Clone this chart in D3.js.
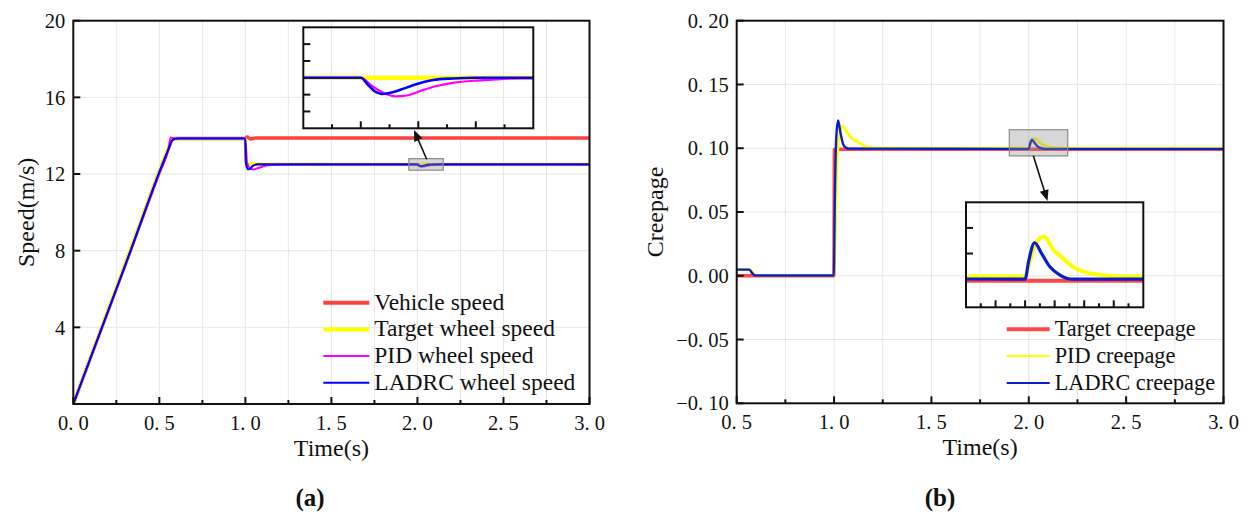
<!DOCTYPE html>
<html>
<head>
<meta charset="utf-8">
<script src="https://cdn.jsdelivr.net/npm/d3@7"></script>
<style>
  body { margin: 0; background: #fff; }
  svg { display: block; }
  text { font-family: "Liberation Serif", "DejaVu Serif", serif; fill: #111; }
</style>
</head>
<body>
<svg id="chart" width="1249" height="513" font-family="Liberation Serif"></svg>
<script>
// ---- panel (a): speed ----
const speedXTicks = [0, 0.5, 1.0, 1.5, 2.0, 2.5, 3.0];
const speedYTicks = [4, 8, 12, 16, 20];
const vehicleSpeed = [[0,0],[0.3,7.23],[0.555,13.37],[0.575,13.8],[0.6,13.85],[1.0,13.85],[1.01,13.93],[1.03,13.83],[1.06,13.88],[3.0,13.88]];
const targetWheelSpeed = [[0,0],[0.3,7.3],[0.55,13.32],[0.57,13.78],[0.59,13.84],[0.999,13.84],[1.004,12.52],[1.5,12.5],[3.0,12.5]];
const pidWheelSpeed = [[0,0],[0.3,7.2],[0.5,12.03],[0.553,13.31],[0.566,13.9],[0.58,13.87],[0.6,13.85],[0.999,13.85],[1.01,12.6],[1.03,12.28],[1.048,12.24],
  [1.08,12.33],[1.12,12.44],[1.18,12.49],[1.3,12.5],[2.0,12.5],[2.01,12.45],[2.02,12.41],[2.03,12.39],
  [2.04,12.395],[2.051,12.42],[2.065,12.45],[2.08,12.47],[2.104,12.485],[2.14,12.497],[3.0,12.5]];
const ladrcWheelSpeed = [[0,0],[0.3,7.2],[0.555,13.34],[0.575,13.76],[0.595,13.85],[0.62,13.86],[0.999,13.86],[1.003,12.6],[1.015,12.25],[1.025,12.26],[1.04,12.4],
  [1.066,12.5],[2.0,12.5],[2.006,12.46],[2.012,12.42],[2.018,12.404],[2.025,12.41],[2.035,12.43],
  [2.046,12.457],[2.063,12.487],[2.08,12.496],[2.1,12.5],[3.0,12.5]];

// ---- panel (b): creepage ----
const creepXTicks = [0.5, 1.0, 1.5, 2.0, 2.5, 3.0];
const creepYTicks = [-0.10, -0.05, 0.00, 0.05, 0.10, 0.15, 0.20];
const targetCreep = [[0.5,0],[0.999,0],[1.002,0.0992],[3.0,0.0992]];
const pidCreep = [[0.5,0.0048],[0.57,0.0048],[0.585,0.002],[0.6,0.0003],[0.999,0.0003],[1.006,0.03],
  [1.013,0.08],[1.025,0.108],[1.043,0.1175],[1.06,0.114],[1.09,0.108],[1.132,0.104],[1.16,0.1015],
  [1.2,0.1003],[2.0,0.1],[2.008,0.103],[2.018,0.1065],[2.032,0.1078],[2.048,0.1052],[2.065,0.1035],
  [2.081,0.1019],[2.1,0.1009],[2.13,0.1003],[2.17,0.1],[3.0,0.1]];
const ladrcCreep = [[0.5,0.0048],[0.565,0.0048],[0.58,0.002],[0.595,0.0002],[0.999,0.0002],[1.004,0.06],
  [1.012,0.11],[1.021,0.1217],[1.033,0.112],[1.047,0.103],[1.06,0.1005],[1.075,0.0997],[2.0,0.0995],
  [2.006,0.103],[2.016,0.1066],[2.028,0.1045],[2.042,0.1019],[2.059,0.1003],[2.08,0.0995],[3.0,0.0995]];

const svg = d3.select("#chart");
const gridColor = "#e6e6e6";

const fmtX = d => d.toFixed(1).replace(".", ". ");
const fmtCreep = d => (d < -1e-9 ? "\u2212" : "") + Math.abs(d).toFixed(2).replace(".", ". ");

function drawPanel(p) {
  const x = d3.scaleLinear().domain(p.xDomain).range([p.left, p.right]);
  const y = d3.scaleLinear().domain(p.yDomain).range([p.bottom, p.top]);
  const g = svg.append("g");

  // grid
  const minor = d3.range(p.xDomain[0], p.xDomain[1] + 1e-9, 0.25);
  g.append("g").selectAll("line").data(minor.slice(1, -1)).join("line")
    .attr("x1", d => x(d)).attr("x2", d => x(d)).attr("y1", p.top).attr("y2", p.bottom)
    .attr("stroke", gridColor).attr("stroke-width", 1);
  g.append("g").selectAll("line").data(p.gridY).join("line")
    .attr("x1", p.left).attr("x2", p.right).attr("y1", d => y(d)).attr("y2", d => y(d))
    .attr("stroke", gridColor).attr("stroke-width", 1);

  const clipId = "clip" + p.id;
  svg.append("clipPath").attr("id", clipId).append("rect")
    .attr("x", p.left).attr("y", p.top).attr("width", p.right - p.left).attr("height", p.bottom - p.top);

  const line = d3.line().x(d => x(d[0])).y(d => y(d[1])).curve(d3.curveMonotoneX);
  const lines = g.append("g").attr("clip-path", `url(#${clipId})`);
  p.series.forEach(s => {
    lines.append("path").attr("d", line(s.data)).attr("fill", "none")
      .attr("stroke", s.color).attr("stroke-width", s.width).attr("stroke-linejoin", "round");
  });

  // zoom rectangle
  const ins = p.inset;
  const rx0 = x(ins.xDomain[0]), rx1 = x(ins.xDomain[1]);
  const ry0 = y(ins.yDomain[1]), ry1 = y(ins.yDomain[0]);
  g.append("rect").attr("x", rx0).attr("y", ry0).attr("width", rx1 - rx0).attr("height", ry1 - ry0)
    .attr("fill", "rgba(140,140,140,0.35)").attr("stroke", "#8a8a8a").attr("stroke-width", 1.2);

  // ticks
  const axisG = g.append("g");
  minor.forEach(d => {
    const major = p.xTicks.some(t => Math.abs(t - d) < 1e-9);
    axisG.append("line").attr("x1", x(d)).attr("x2", x(d)).attr("y1", p.bottom).attr("y2", p.bottom - (major ? 7 : 4))
      .attr("stroke", "#111").attr("stroke-width", 2);
  });
  p.yTicks.forEach(d => {
    axisG.append("line").attr("x1", p.left).attr("x2", p.left + 7).attr("y1", y(d)).attr("y2", y(d))
      .attr("stroke", "#111").attr("stroke-width", 2);
  });
  axisG.append("rect").attr("x", p.left).attr("y", p.top).attr("width", p.right - p.left).attr("height", p.bottom - p.top)
    .attr("fill", "none").attr("stroke", "#111").attr("stroke-width", 2);

  axisG.selectAll("text.xt").data(p.xTicks).join("text").attr("class", "xt")
    .attr("x", d => x(d)).attr("y", p.bottom + 26).attr("text-anchor", "middle")
    .attr("font-size", 20.5).text(fmtX);
  axisG.selectAll("text.yt").data(p.yLabelTicks).join("text").attr("class", "yt")
    .attr("x", p.left - 8).attr("y", d => y(d)).attr("dy", "0.35em").attr("text-anchor", "end")
    .attr("font-size", 20.5).text(p.yFmt);

  g.append("text").attr("x", (p.left + p.right) / 2).attr("y", p.bottom + 52).attr("text-anchor", "middle")
    .attr("font-size", 24).text("Time(s)");
  g.append("text").attr("transform", `translate(${p.yLabelX},${(p.top + p.bottom) / 2}) rotate(-90)`)
    .attr("text-anchor", "middle").attr("dy", "0.35em").attr("font-size", 24).text(p.yLabel);
  g.append("text").attr("x", p.captionX).attr("y", 506).attr("text-anchor", "middle")
    .attr("font-size", 25).attr("font-weight", "bold").text(p.caption);

  // inset
  const ix = d3.scaleLinear().domain(ins.xDomain).range([ins.x, ins.x + ins.w]);
  const iy = d3.scaleLinear().domain(ins.yDomain).range([ins.y + ins.h, ins.y]);
  const iClip = "iclip" + p.id;
  svg.append("clipPath").attr("id", iClip).append("rect")
    .attr("x", ins.x).attr("y", ins.y).attr("width", ins.w).attr("height", ins.h);
  const iline = d3.line().x(d => ix(d[0])).y(d => iy(d[1])).curve(d3.curveMonotoneX);
  const ig = g.append("g");
  const il = ig.append("g").attr("clip-path", `url(#${iClip})`);
  p.series.forEach(s => {
    il.append("path").attr("d", iline(s.data)).attr("fill", "none")
      .attr("stroke", s.color).attr("stroke-width", s.insetWidth).attr("stroke-linejoin", "round");
  });
  ins.xTicks.forEach(d => {
    const long = Math.abs(Math.round(d / 0.05) * 0.05 - d) < 1e-9;
    ig.append("line").attr("x1", ix(d)).attr("x2", ix(d)).attr("y1", ins.y + ins.h).attr("y2", ins.y + ins.h - (long ? 7 : 4))
      .attr("stroke", "#111").attr("stroke-width", 2);
  });
  ins.yTicks.forEach(d => {
    ig.append("line").attr("x1", ins.x).attr("x2", ins.x + 7).attr("y1", iy(d)).attr("y2", iy(d))
      .attr("stroke", "#111").attr("stroke-width", 2);
  });
  ig.append("rect").attr("x", ins.x).attr("y", ins.y).attr("width", ins.w).attr("height", ins.h)
    .attr("fill", "none").attr("stroke", "#111").attr("stroke-width", 2);

  // arrow from zoom rect to inset
  const a = ins.arrow;
  const ang = Math.atan2(a[3] - a[1], a[2] - a[0]);
  const hl = 11, hw = 4.5;
  g.append("line").attr("x1", a[0]).attr("y1", a[1])
    .attr("x2", a[2] - Math.cos(ang) * hl * 0.8).attr("y2", a[3] - Math.sin(ang) * hl * 0.8)
    .attr("stroke", "#111").attr("stroke-width", 1.6);
  const bx = a[2] - Math.cos(ang) * hl, by = a[3] - Math.sin(ang) * hl;
  g.append("polygon").attr("fill", "#111").attr("points", [
    [a[2], a[3]],
    [bx - Math.sin(ang) * hw, by + Math.cos(ang) * hw],
    [bx + Math.sin(ang) * hw, by - Math.cos(ang) * hw]
  ].map(q => q.join(",")).join(" "));

  // legend
  const lg = g.append("g");
  p.series.forEach((s, i) => {
    const yy = p.legend.y + i * p.legend.dy;
    lg.append("line").attr("x1", p.legend.x).attr("x2", p.legend.x + p.legend.len).attr("y1", yy).attr("y2", yy)
      .attr("stroke", s.color).attr("stroke-width", s.legendWidth);
    lg.append("text").attr("x", p.legend.x + p.legend.len + 5).attr("y", yy).attr("dy", "0.3em")
      .attr("font-size", p.legend.size).text(s.name);
  });
}

drawPanel({
  id: "a", left: 73.3, right: 589.5, top: 20.7, bottom: 404,
  xDomain: [0, 3], yDomain: [0, 20], xTicks: speedXTicks, yTicks: speedYTicks, yLabelTicks: speedYTicks,
  gridY: speedYTicks.slice(0, -1), yFmt: d => d, yLabel: "Speed(m/s)", yLabelX: 26, caption: "(a)", captionX: 310,
  series: [
    { name: "Vehicle speed", data: vehicleSpeed, color: "#ff4040", width: 3.5, insetWidth: 4, legendWidth: 4 },
    { name: "Target wheel speed", data: targetWheelSpeed, color: "#ffff00", width: 3.5, insetWidth: 4.5, legendWidth: 4 },
    { name: "PID wheel speed", data: pidWheelSpeed, color: "#ff00ff", width: 2, insetWidth: 2.2, legendWidth: 2 },
    { name: "LADRC wheel speed", data: ladrcWheelSpeed, color: "#0000ff", width: 2.2, insetWidth: 2.6, legendWidth: 2 }
  ],
  inset: {
    x: 303.3, y: 27.3, w: 230, h: 101, xDomain: [1.95, 2.15], yDomain: [12.2, 12.8],
    xTicks: d3.range(1.975, 2.13, 0.025), yTicks: [12.3, 12.4, 12.6, 12.7],
    arrow: [426.7, 159.3, 414, 130]
  },
  legend: { x: 323.3, y: 302.7, dy: 26.7, len: 46, size: 23.5 }
});

drawPanel({
  id: "b", left: 736.7, right: 1223.5, top: 20.7, bottom: 403.3,
  xDomain: [0.5, 3], yDomain: [-0.1, 0.2], xTicks: creepXTicks, yTicks: creepYTicks, yLabelTicks: creepYTicks,
  gridY: creepYTicks.slice(1, -1), yFmt: fmtCreep, yLabel: "Creepage", yLabelX: 655, caption: "(b)", captionX: 940,
  series: [
    { name: "Target creepage", data: targetCreep, color: "#ff4747", width: 3.5, insetWidth: 4, legendWidth: 4 },
    { name: "PID creepage", data: pidCreep, color: "#ffff00", width: 2.8, insetWidth: 4, legendWidth: 2 },
    { name: "LADRC creepage", data: ladrcCreep, color: "#0a1ec8", width: 2.4, insetWidth: 3.2, legendWidth: 2 }
  ],
  inset: {
    x: 966, y: 202.3, w: 177.3, h: 105, xDomain: [1.9, 2.2], yDomain: [0.094, 0.1145],
    xTicks: d3.range(1.925, 2.19, 0.025), yTicks: [0.1045, 0.1095],
    arrow: [1033.3, 155.7, 1047.5, 201]
  },
  legend: { x: 1006.7, y: 329.3, dy: 26.8, len: 43, size: 22.3 }
});
</script>
</body>
</html>
